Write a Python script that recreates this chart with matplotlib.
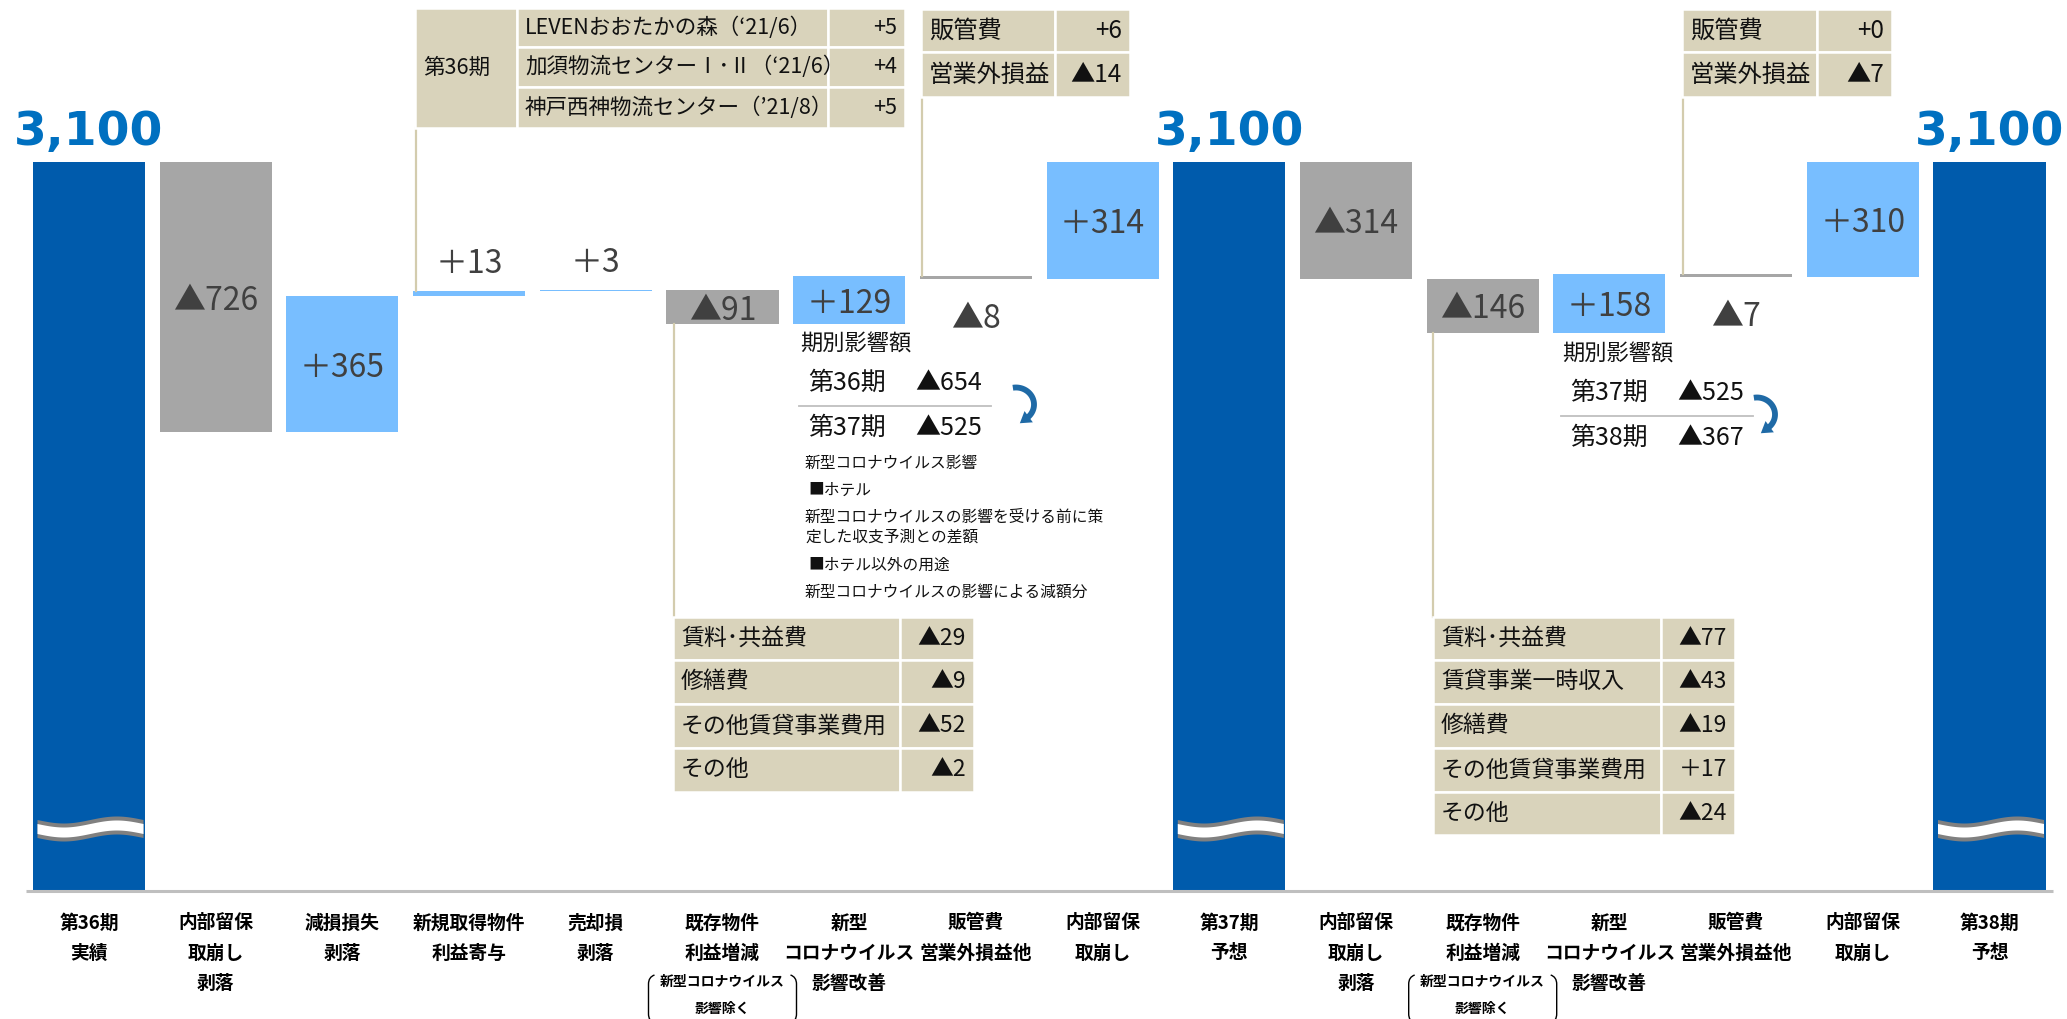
import matplotlib
matplotlib.use("Agg")
import matplotlib.pyplot as plt
import numpy as np
from matplotlib.patches import Rectangle, PathPatch, Polygon
from matplotlib.path import Path

plt.rcParams['font.family'] = ['Noto Sans CJK JP', 'DejaVu Sans']

# ---------------- data ----------------
categories = [
    "第36期\n実績", "内部留保\n取崩し\n剥落", "減損損失\n剥落", "新規取得物件\n利益寄与",
    "売却損\n剥落", "既存物件\n利益増減", "新型\nコロナウイルス\n影響改善", "販管費\n営業外損益他",
    "内部留保\n取崩し", "第37期\n予想", "内部留保\n取崩し\n剥落", "既存物件\n利益増減",
    "新型\nコロナウイルス\n影響改善", "販管費\n営業外損益他", "内部留保\n取崩し", "第38期\n予想",
]
values = [3100, -726, 365, 13, 3, -91, 129, -8, 314, 3100, -314, -146, 158, -7, 310, 3100]
is_total = [True, False, False, False, False, False, False, False, False,
            True, False, False, False, False, False, True]
note_cats = [5, 11]
note_lines = ["新型コロナウイルス", "影響除く"]

acq_period = "第36期"
acq_names = ["LEVENおおたかの森（‘21/6）", "加須物流センターⅠ･Ⅱ（‘21/6）", "神戸西神物流センター（’21/8）"]
acq_values = [5, 4, 5]

sga37_items = ["販管費", "営業外損益"]
sga37_values = [6, -14]
sga38_items = ["販管費", "営業外損益"]
sga38_values = [0, -7]

exist37_items = ["賃料･共益費", "修繕費", "その他賃貸事業費用", "その他"]
exist37_values = [-29, -9, -52, -2]
exist38_items = ["賃料･共益費", "賃貸事業一時収入", "修繕費", "その他賃貸事業費用", "その他"]
exist38_values = [-77, -43, -19, 17, -24]

covid37_periods = ["第36期", "第37期"]
covid37_values = [-654, -525]
covid38_periods = ["第37期", "第38期"]
covid38_values = [-525, -367]
covid_notes = ["新型コロナウイルス影響", "■ホテル", "新型コロナウイルスの影響を受ける前に策",
               "定した収支予測との差額", "■ホテル以外の用途", "新型コロナウイルスの影響による減額分"]

# ---------------- style ----------------
C_TOTAL = "#005BAC"
C_UP = "#78BEFF"
C_DOWN = "#A6A6A6"
C_TAN = "#D9D3BB"
C_CONN = "#D3CCAE"
C_LABEL = "#404040"
C_BIG = "#0070C0"
C_ARROW = "#1F6AA6"

W, H = 2067, 1019
FLOOR = 1140          # broken-axis floor for the total bars
PX_PER_UNIT = 0.372
TOP_PX = 162          # pixel row of the 3,100 level
X0_PX, DX_PX = 89.0, 126.7


def signed(v, plus="+"):
    return f"▲{abs(v)}" if v < 0 else f"{plus}{v}"


fig = plt.figure(figsize=(W / 100, H / 100), dpi=100)
ax = fig.add_axes([0, 0, 1, 1])
ax.set_xlim(-X0_PX / DX_PX, (W - X0_PX) / DX_PX)
ax.set_ylim(3100 - (H - TOP_PX) / PX_PER_UNIT, 3100 + TOP_PX / PX_PER_UNIT)
ax.axis("off")

pax = fig.add_axes([0, 0, 1, 1], facecolor="none")
pax.set_xlim(0, W)
pax.set_ylim(H, 0)
pax.axis("off")


def to_px(x, y):
    dx, dy = ax.transData.transform((x, y))
    return dx, H - dy


# ---------------- waterfall bars ----------------
x = np.arange(len(values))
bottoms, heights, colors = [], [], []
running = 0
for v, tot in zip(values, is_total):
    if tot:
        bottoms.append(FLOOR)
        heights.append(v - FLOOR)
        colors.append(C_TOTAL)
        running = v
    else:
        b = running if v > 0 else running + v
        bottoms.append(b)
        heights.append(abs(v))
        colors.append(C_UP if v > 0 else C_DOWN)
        running += v
bottoms = np.array(bottoms, float)
heights = np.array(heights, float)
ax.bar(x, heights, bottom=bottoms, width=0.885, color=colors, linewidth=0, zorder=2)

for i, (v, tot) in enumerate(zip(values, is_total)):
    top = bottoms[i] + heights[i]
    if tot:
        ax.annotate(f"{v:,}", (i, top), xytext=(0, 21.5), textcoords="offset points",
                    ha="center", va="center", fontsize=34, fontweight="bold",
                    color=C_BIG, family="DejaVu Sans", zorder=5)
    elif abs(v) >= 50:
        ax.annotate(signed(v, "＋"), (i, bottoms[i] + heights[i] / 2), xytext=(0, -2.5),
                    textcoords="offset points", ha="center", va="center",
                    fontsize=23, color=C_LABEL, zorder=5)
    elif v > 0:
        ax.annotate(signed(v, "＋"), (i, top), xytext=(0, 19.5), textcoords="offset points",
                    ha="center", va="center", fontsize=23, color=C_LABEL, zorder=5)
    else:
        ax.annotate(signed(v, "＋"), (i, bottoms[i]), xytext=(0, -29), textcoords="offset points",
                    ha="center", va="center", fontsize=23, color=C_LABEL, zorder=5)

# baseline
ax.plot([(26 - X0_PX) / DX_PX, (2053 - X0_PX) / DX_PX], [FLOOR, FLOOR],
        color="#BFBFBF", lw=2.2, solid_capstyle="butt", zorder=3)

# break marks on the total bars
for i, tot in enumerate(is_total):
    if not tot:
        continue
    cx, _ = to_px(i, 0)
    xs = np.linspace(cx - 52, cx + 54, 120)
    t = (xs - xs[0]) / (xs[-1] - xs[0])
    yc = 828.5 + 3.5 * np.sin(2 * np.pi * t)
    pax.fill_between(xs, yc - 9, yc + 9, color="#808080", lw=0, zorder=4)
    pax.fill_between(xs, yc - 5, yc + 5, color="white", lw=0, zorder=4)

# ---------------- category labels ----------------
for i, lab in enumerate(categories):
    cx, _ = to_px(i, 0)
    for j, line in enumerate(lab.split("\n")):
        pax.text(cx, 923 + 30 * j, line, ha="center", va="center", fontsize=13.5,
                 fontweight="bold", color="black")

for i in note_cats:
    cx, _ = to_px(i, 0)
    for j, line in enumerate(note_lines):
        pax.text(cx, 982 + 27 * j, line, ha="center", va="center", fontsize=10,
                 fontweight="bold", color="black")
    for side in (-1, 1):
        bx = cx + side * 74
        verts = [(bx - side * 6, 975), (bx, 977), (bx, 984), (bx, 1014), (bx, 1021), (bx - side * 6, 1023)]
        codes = [Path.MOVETO, Path.CURVE3, Path.CURVE3, Path.LINETO, Path.CURVE3, Path.CURVE3]
        pax.add_patch(PathPatch(Path(verts, codes), fill=False, lw=1.0, color="black"))


# ---------------- tables ----------------
def table(x_edges, y_edges, labels, vals, fontsize, pad=8, plus="+"):
    for r in range(len(labels)):
        y0, y1 = y_edges[r], y_edges[r + 1]
        for c in range(2):
            x0, x1 = x_edges[c], x_edges[c + 1]
            pax.add_patch(Rectangle((x0, y0), x1 - x0, y1 - y0, facecolor=C_TAN,
                                    edgecolor="white", lw=1.8, zorder=3))
        pax.text(x_edges[0] + pad, (y0 + y1) / 2, labels[r], ha="left", va="center",
                 fontsize=fontsize, color="#111111", zorder=4)
        pax.text(x_edges[2] - pad, (y0 + y1) / 2, signed(vals[r], plus), ha="right",
                 va="center", fontsize=fontsize, color="#111111", zorder=4)


# acquisitions (period column merged)
acq_x = [415, 517, 828, 905]
acq_y = [8, 47, 87, 128]
pax.add_patch(Rectangle((acq_x[0], acq_y[0]), acq_x[1] - acq_x[0], acq_y[-1] - acq_y[0],
                        facecolor=C_TAN, edgecolor="white", lw=1.8, zorder=3))
pax.text(acq_x[0] + 8, (acq_y[0] + acq_y[-1]) / 2, acq_period, ha="left", va="center",
         fontsize=15.5, color="#111111", zorder=4)
table(acq_x[1:], acq_y, acq_names, acq_values, 15.5)

table([921, 1055, 1130], [9, 52, 97], sga37_items, sga37_values, 17.5)
table([1682, 1817, 1892], [9, 52, 97], sga38_items, sga38_values, 17.5)
table([673, 900, 974], [617, 660, 704, 748, 792], exist37_items, exist37_values, 16.5)
table([1433, 1661, 1735], [617, 660, 704, 748, 792, 835], exist38_items, exist38_values, 16.5,
      plus="＋")


# connectors from tables to bars
def connector(px_x, table_y, bar_idx, end):
    y = bottoms[bar_idx] + heights[bar_idx] if end == "top" else bottoms[bar_idx]
    _, py = to_px(bar_idx, y)
    pax.plot([px_x, px_x], [table_y, py], color=C_CONN, lw=1.6, zorder=2)


connector(416, 128, 3, "top")
connector(922, 97, 7, "top")
connector(1683, 97, 13, "top")
connector(674, 617, 5, "bottom")
connector(1433, 617, 11, "bottom")


# ---------------- COVID period breakdown ----------------
def curved_arrow(cx, cy, rx, ry):
    th = np.radians(np.linspace(-100, 52, 80))
    xs = cx + rx * np.cos(th)
    ys = cy + ry * np.sin(th)
    pax.plot(xs, ys, color=C_ARROW, lw=4.2, solid_capstyle="butt", zorder=5)
    te = th[-1]
    tx, ty = -rx * np.sin(te), ry * np.cos(te)
    n = np.hypot(tx, ty)
    tx, ty = tx / n, ty / n
    nx, ny = -ty, tx
    ex, ey = xs[-1], ys[-1]
    tip = (ex + tx * 9, ey + ty * 9)
    b1 = (ex - tx * 2 + nx * 7, ey - ty * 2 + ny * 7)
    b2 = (ex - tx * 2 - nx * 7, ey - ty * 2 - ny * 7)
    pax.add_patch(Polygon([tip, b1, b2], closed=True, color=C_ARROW, lw=0, zorder=5))


def covid_block(x_left, y_title, periods, vals, arrow_x):
    pax.text(x_left, y_title, "期別影響額", ha="left", va="center", fontsize=16, color="#111111")
    ys = [y_title + 39, y_title + 84]
    for yy, p, v in zip(ys, periods, vals):
        pax.text(x_left + 8, yy, p, ha="left", va="center", fontsize=18, color="#111111")
        pax.text(x_left + 115, yy, signed(v), ha="left", va="center", fontsize=18, color="#111111")
    ysep = (ys[0] + ys[1]) / 2
    pax.plot([x_left - 1, x_left + 191], [ysep, ysep], color="#BFBFBF", lw=1.3)
    curved_arrow(arrow_x, (ys[0] + ys[1]) / 2 - 1, 18, 17)


covid_block(800, 344, covid37_periods, covid37_values, 1016)
covid_block(1562, 354, covid38_periods, covid38_values, 1757)

note_y = [463, 490, 517, 537, 565, 592]
for yy, line in zip(note_y, covid_notes):
    xx = 808 if line.startswith("■") else 805
    pax.text(xx, yy, line, ha="left", va="center", fontsize=11.3, color="#111111")

fig.savefig("out.png", dpi=100)
